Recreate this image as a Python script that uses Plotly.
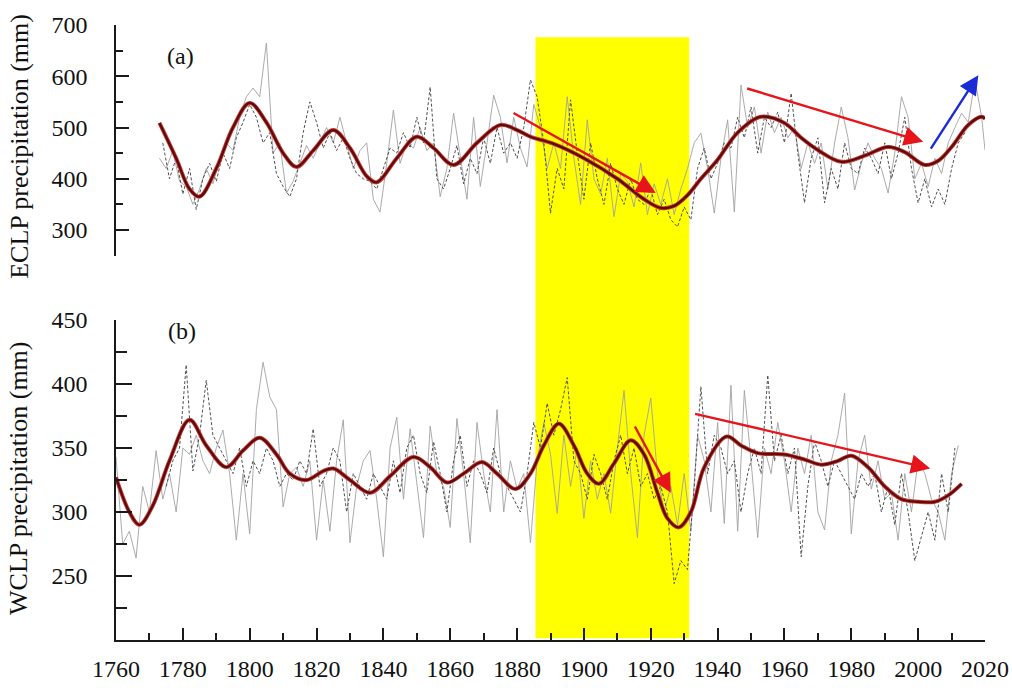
import numpy as np
import plotly.graph_objects as go

# ---------------- ECLP (panel a) ----------------
eclp_solid_years = list(range(1773, 2020, 2)) + [2020]
eclp_solid = [440, 420, 455, 395, 385, 350, 380, 420, 390, 440, 470, 455, 520, 560, 577, 560,
              665, 450, 470, 372, 395, 430, 465, 440, 470, 500, 470, 520, 470, 420, 455, 470,
              360, 335, 430, 534, 430, 470, 460, 500, 455, 470, 365, 420, 528, 440, 360, 520,
              385, 470, 563, 520, 431, 520, 460, 423, 545, 500, 420, 470, 420, 560, 440, 350,
              515, 400, 370, 440, 326, 410, 395, 345, 431, 330, 390, 350, 400, 330, 380, 420,
              470, 489, 420, 333, 440, 515, 335, 583, 500, 540, 450, 530, 490, 520, 480, 500,
              420, 470, 430, 470, 380, 470, 540, 480, 378, 430, 470, 440, 420, 372, 450, 560,
              520, 400, 430, 385, 440, 410, 470, 500, 528, 510, 593, 520, 456]

eclp_dash_years = list(range(1774, 2015, 2))
eclp_dash = [470, 400, 440, 370, 420, 340, 400, 430, 395, 450, 420, 480, 510, 545, 520, 470,
             490, 410, 385, 365, 400, 490, 550, 510, 460, 490, 455, 480, 440, 410, 400, 395,
             380, 420, 460, 450, 490, 460, 520, 470, 579, 400, 380, 420, 465, 390, 440, 410,
             480, 430, 500, 450, 470, 440, 500, 593, 560, 470, 333, 420, 380, 554, 450, 360,
             470, 400, 350, 430, 380, 350, 400, 360, 350, 380, 330, 360, 320, 306, 345, 320,
             420, 460, 400, 430, 470, 460, 520, 480, 540, 450, 520, 500, 530, 470, 567, 450,
             353, 440, 480, 353, 420, 380, 470, 420, 410, 460, 440, 410, 470, 400, 450, 520,
             420, 353, 400, 345, 380, 350, 420, 470, 490]

eclp_smooth_years = [1773, 1778, 1782, 1785, 1790, 1795, 1800, 1805, 1810, 1814, 1819, 1825,
                     1830, 1835, 1838, 1844, 1850, 1855, 1861, 1868, 1875, 1880, 1884, 1891,
                     1900, 1910, 1918, 1923, 1927, 1931, 1935, 1940, 1946, 1953, 1960, 1965,
                     1970, 1977, 1984, 1991, 1996, 2002, 2006, 2010, 2015, 2019, 2020]
eclp_smooth = [509, 440, 380, 365, 420, 500, 548, 510, 450, 423, 455, 495,
               460, 405, 393, 440, 482, 460, 427, 470, 505, 495, 482, 468,
               440, 400, 360, 343, 347, 368, 400, 437, 490, 521, 509, 480,
               456, 433, 445, 462, 452, 427, 435, 462, 505, 521, 517]

# ---------------- WCLP (panel b) ----------------
wclp_solid_years = list(range(1760, 2013, 2))
wclp_solid = [343, 275, 285, 264, 320, 300, 348, 310, 330, 300, 350, 345, 360, 340, 330, 350,
              364, 330, 278, 330, 283, 380, 417, 390, 380, 304, 330, 335, 320, 340, 278, 325,
              285, 340, 372, 276, 320, 340, 348, 310, 265, 350, 374, 310, 365, 320, 280, 367,
              330, 320, 288, 373, 330, 276, 370, 330, 300, 380, 300, 340, 318, 330, 276, 340,
              370, 345, 299, 360, 320, 350, 295, 340, 310, 330, 299, 350, 395, 330, 280, 360,
              389, 330, 300, 320, 290, 330, 285, 360, 340, 300, 370, 291, 399, 285, 395, 340,
              280, 350, 330, 370, 340, 300, 350, 330, 360, 300, 286, 340, 360, 393, 283, 340,
              360, 318, 340, 310, 315, 278, 330, 300, 340, 330, 310, 300, 278, 330, 352]

wclp_dash_years = list(range(1775, 2012, 2))
wclp_dash = [320, 340, 350, 415, 332, 360, 403, 360, 350, 340, 330, 350, 320, 340, 330, 350,
             340, 320, 330, 325, 340, 330, 365, 320, 330, 350, 340, 300, 330, 320, 310, 330,
             320, 310, 340, 315, 350, 360, 330, 315, 355, 330, 300, 340, 360, 320, 340, 330,
             315, 350, 330, 320, 310, 300, 330, 370, 350, 385, 360, 380, 405, 340, 330, 310,
             345, 330, 310, 340, 360, 330, 350, 320, 330, 310, 320, 300, 244, 262, 255, 320,
             398, 330, 360, 350, 330, 340, 300, 330, 350, 330, 407, 340, 360, 330, 350, 265,
             320, 355, 340, 320, 340, 330, 320, 310, 330, 320, 330, 300, 320, 290, 330, 300,
             262, 280, 300, 278, 330, 300, 350]

wclp_smooth_years = [1760, 1764, 1767, 1771, 1776, 1782, 1787, 1793, 1798, 1803, 1808, 1812,
                     1817, 1822, 1825, 1830, 1836, 1842, 1849, 1854, 1859, 1864, 1869.5, 1874,
                     1879.5, 1884, 1888, 1892.5, 1897, 1901, 1904.5, 1909, 1914, 1918, 1922,
                     1925, 1928.4, 1932, 1936, 1942.7, 1947, 1952, 1960, 1966, 1971, 1976,
                     1980, 1985, 1990, 1995, 2000, 2005, 2009, 2013]
wclp_smooth = [327, 300, 290, 305, 340, 372, 352, 335, 348, 358, 345, 330,
               325, 332, 334, 325, 315, 328, 343, 335, 323, 330, 339, 330,
               318, 330, 352, 369, 352, 330, 322, 338, 356, 345, 315,
               295, 288, 300, 335, 359, 352, 346, 345, 341, 337, 340,
               344, 335, 320, 310, 308, 308, 313, 322]

# Trend arrows: (tail year, tail value, head year, head value, panel, colour)
trend_arrows = [
    (1878.5, 530, 1921.5, 372, "y2", "#e8141c"),
    (1948.4, 577, 2001.5, 472, "y2", "#e8141c"),
    (2003.5, 456, 2018.0, 602, "y2", "#1b2bd6"),
    (1915.0, 368, 1926.0, 315, "y", "#e8141c"),
    (1932.8, 377, 2003.6, 334, "y", "#e8141c"),
]

# Highlighted period
band_start, band_end = 1885.5, 1931.5

x_ticks = list(range(1760, 2021, 20))
eclp_ticks = [300, 400, 500, 600, 700]
wclp_ticks = [250, 300, 350, 400, 450]

FONT = "Liberation Serif, Times New Roman, serif"
SOLID_GREY = "#a2a2a2"
DASH_GREY = "#505050"

fig = go.Figure()


def add_panel(yref, sy, sv, dy, dv, my, mv):
    fig.add_trace(go.Scatter(x=sy, y=sv, yaxis=yref, mode="lines",
                             line=dict(color=SOLID_GREY, width=0.9), hoverinfo="skip"))
    fig.add_trace(go.Scatter(x=dy, y=dv, yaxis=yref, mode="lines",
                             line=dict(color=DASH_GREY, width=1.0, dash="3px,2px"),
                             hoverinfo="skip"))
    # smoothed curve: thin red rim under a dark maroon core
    fig.add_trace(go.Scatter(x=my, y=mv, yaxis=yref, mode="lines",
                             line=dict(color="#d23a36", width=4, shape="spline", smoothing=1.0),
                             hoverinfo="skip"))
    fig.add_trace(go.Scatter(x=my, y=mv, yaxis=yref, mode="lines",
                             line=dict(color="#5a0d0d", width=2.3, shape="spline", smoothing=1.0),
                             hoverinfo="skip"))


add_panel("y2", eclp_solid_years, eclp_solid, eclp_dash_years, eclp_dash,
          eclp_smooth_years, eclp_smooth)
add_panel("y", wclp_solid_years, wclp_solid, wclp_dash_years, wclp_dash,
          wclp_smooth_years, wclp_smooth)

fig.add_shape(type="rect", xref="x", yref="paper", x0=band_start, x1=band_end,
              y0=0.003, y1=0.98, fillcolor="#ffff00", line=dict(width=0), layer="below")

for x0, y0, x1, y1, yr, col in trend_arrows:
    fig.add_annotation(x=x1, y=y1, ax=x0, ay=y0, xref="x", yref=yr, axref="x", ayref=yr,
                       showarrow=True, arrowhead=2, arrowsize=1.6, arrowwidth=2.4,
                       arrowcolor=col, text="", standoff=0, startstandoff=0)

# panel letters
fig.add_annotation(x=0.056, y=0.974, xref="paper", yref="paper", text="(a)",
                   showarrow=False, font=dict(family=FONT, size=24, color="#111"))
fig.add_annotation(x=0.058, y=0.502, xref="paper", yref="paper", text="(b)",
                   showarrow=False, font=dict(family=FONT, size=24, color="#111"))

# axis titles
fig.add_annotation(x=-0.112, y=0.803, xref="paper", yref="paper",
                   text="ECLP precipitation (mm)", textangle=-90, showarrow=False,
                   xanchor="center", yanchor="middle",
                   font=dict(family=FONT, size=26, color="#111"))
fig.add_annotation(x=-0.112, y=0.263, xref="paper", yref="paper",
                   text="WCLP precipitation (mm)", textangle=-90, showarrow=False,
                   xanchor="center", yanchor="middle",
                   font=dict(family=FONT, size=26, color="#111"))

axis_common = dict(showgrid=False, zeroline=False, showline=True, linecolor="#1a1a1a",
                   linewidth=1.6, ticks="inside", tickcolor="#1a1a1a", tickwidth=1.6,
                   automargin=False, tickfont=dict(family=FONT, size=24, color="#111"))

fig.update_layout(
    width=1012, height=695,
    margin=dict(l=116, r=27, t=25, b=55),
    paper_bgcolor="white", plot_bgcolor="white",
    showlegend=False,
    xaxis=dict(range=[1760, 2020], tickvals=x_ticks, ticklen=12,
               minor=dict(tickvals=list(range(1770, 2020, 20)), ticklen=7,
                          ticks="inside", tickcolor="#1a1a1a", tickwidth=1.6),
               ticklabelstandoff=6, ticklabeloverflow="allow", anchor="y", **axis_common),
    yaxis=dict(domain=[0, 0.5203], range=[200, 450], tickvals=wclp_ticks, ticklen=16,
               minor=dict(tickvals=[225, 275, 325, 375, 425], ticklen=11,
                          ticks="inside", tickcolor="#1a1a1a", tickwidth=1.6),
               ticklabelstandoff=22, anchor="x", **axis_common),
    yaxis2=dict(domain=[0.625, 1.0], range=[250, 700], tickvals=eclp_ticks, ticklen=13,
                minor=dict(tickvals=[350, 450, 550, 650], ticklen=7,
                           ticks="inside", tickcolor="#1a1a1a", tickwidth=1.6),
                ticklabelstandoff=22, anchor="x", **axis_common),
)

fig.write_html("out.html")
